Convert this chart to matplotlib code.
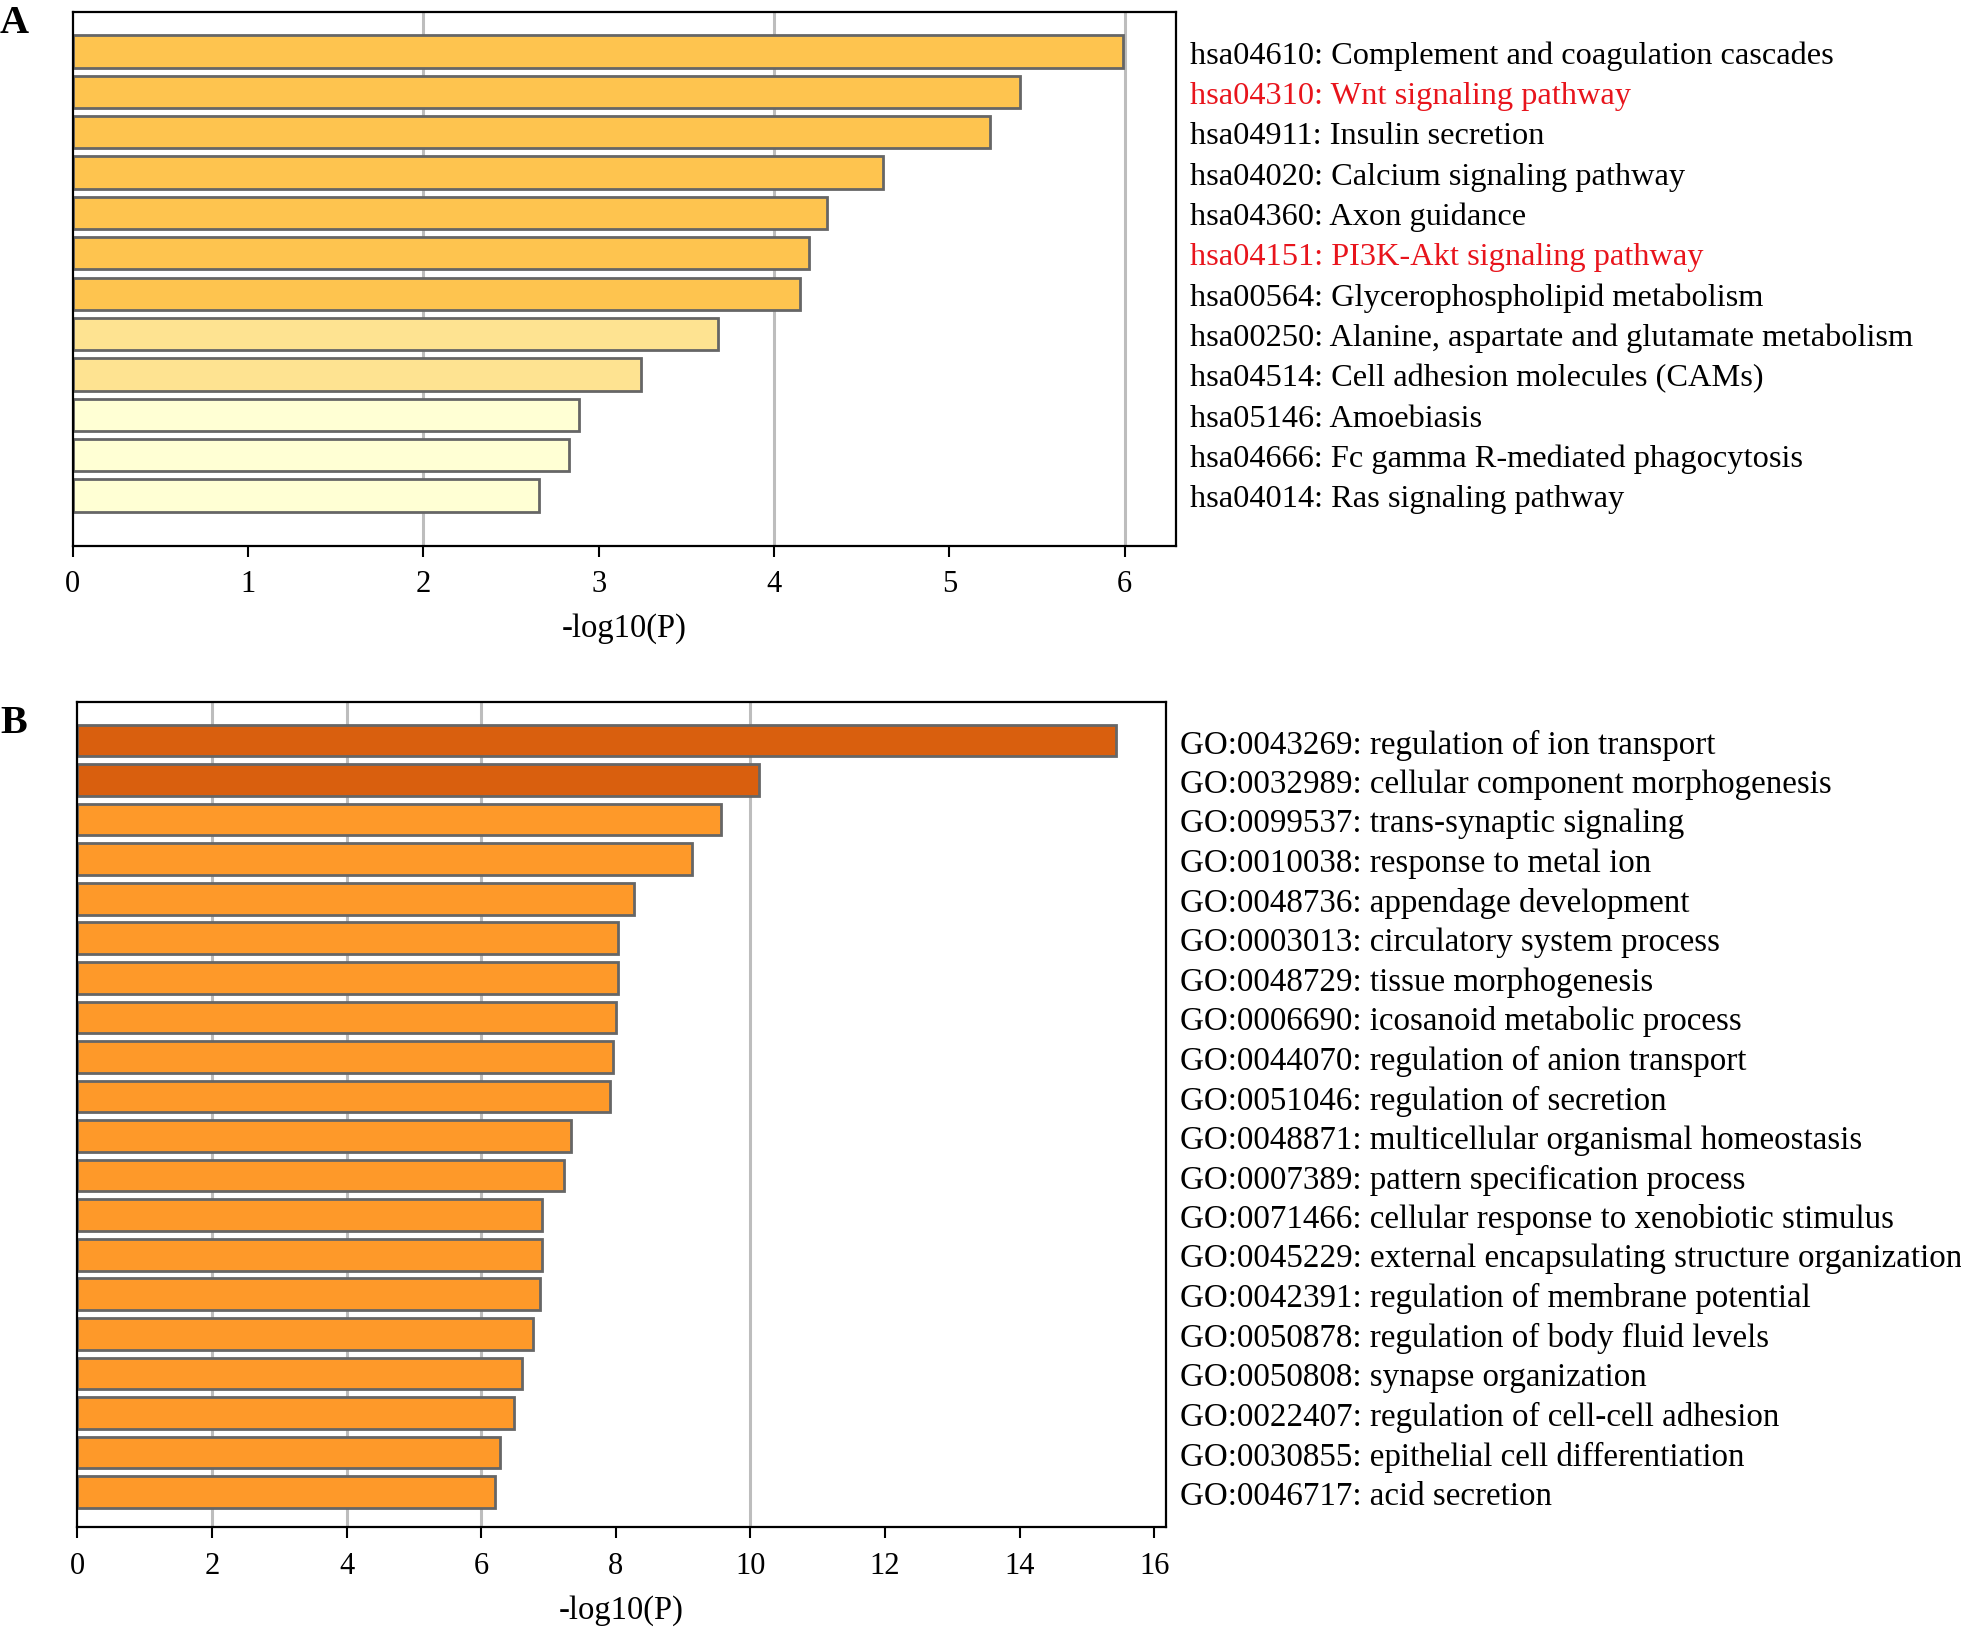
from matplotlib import pyplot as plt

plt.rcParams['font.family'] = ['Liberation Serif', 'DejaVu Serif']

# panel A: KEGG pathways
kegg_terms = ['hsa04610: Complement and coagulation cascades',
              'hsa04310: Wnt signaling pathway',
              'hsa04911: Insulin secretion',
              'hsa04020: Calcium signaling pathway',
              'hsa04360: Axon guidance',
              'hsa04151: PI3K-Akt signaling pathway',
              'hsa00564: Glycerophospholipid metabolism',
              'hsa00250: Alanine, aspartate and glutamate metabolism',
              'hsa04514: Cell adhesion molecules (CAMs)',
              'hsa05146: Amoebiasis',
              'hsa04666: Fc gamma R-mediated phagocytosis',
              'hsa04014: Ras signaling pathway']
kegg_vals = [5.99, 5.40, 5.23, 4.62, 4.30, 4.20, 4.15, 3.68, 3.24, 2.89, 2.83, 2.66]
kegg_cols = ['#fec44f'] * 7 + ['#fee391'] * 2 + ['#ffffd4'] * 3
kegg_highlight = ['hsa04310: Wnt signaling pathway', 'hsa04151: PI3K-Akt signaling pathway']

# panel B: GO terms
go_terms = ['GO:0043269: regulation of ion transport',
            'GO:0032989: cellular component morphogenesis',
            'GO:0099537: trans-synaptic signaling',
            'GO:0010038: response to metal ion',
            'GO:0048736: appendage development',
            'GO:0003013: circulatory system process',
            'GO:0048729: tissue morphogenesis',
            'GO:0006690: icosanoid metabolic process',
            'GO:0044070: regulation of anion transport',
            'GO:0051046: regulation of secretion',
            'GO:0048871: multicellular organismal homeostasis',
            'GO:0007389: pattern specification process',
            'GO:0071466: cellular response to xenobiotic stimulus',
            'GO:0045229: external encapsulating structure organization',
            'GO:0042391: regulation of membrane potential',
            'GO:0050878: regulation of body fluid levels',
            'GO:0050808: synapse organization',
            'GO:0022407: regulation of cell-cell adhesion',
            'GO:0030855: epithelial cell differentiation',
            'GO:0046717: acid secretion']
go_vals = [15.43, 10.13, 9.57, 9.13, 8.27, 8.03, 8.03, 8.01, 7.96, 7.92,
           7.34, 7.23, 6.90, 6.90, 6.88, 6.77, 6.60, 6.49, 6.28, 6.21]
go_cols = ['#d95f0e'] * 2 + ['#fe9929'] * 18


def draw(ax, terms, vals, cols, grid, xmax, xticks, top_pad, bot_pad, fs, red=()):
    y = list(range(len(terms)))
    for g in grid:
        ax.axvline(g, color='#bdbdbd', lw=2.2, zorder=0)
    ax.barh(y, vals, height=0.8, color=cols, edgecolor='#666666', linewidth=2, zorder=2)
    ax.set_ylim(len(terms) - 1 + bot_pad, -top_pad)
    ax.set_xlim(0, xmax)
    ax.set_xticks(xticks)
    ax.tick_params(axis='x', labelsize=22, length=8, width=1.5, direction='out', pad=9)
    ax.yaxis.tick_right()
    ax.set_yticks(y)
    ax.set_yticklabels(terms, fontsize=fs)
    ax.tick_params(axis='y', length=0, pad=10)
    for lab in ax.get_yticklabels():
        if lab.get_text() in red:
            lab.set_color('#e8141c')
    for s in ax.spines.values():
        s.set_linewidth(1.6)
        s.set_color('black')
    ax.set_xlabel('-log10(P)', fontsize=23.5, labelpad=10)


fig = plt.figure(figsize=(19.61, 16.31), dpi=100)

axA = fig.add_axes([0.0370, 0.6649, 0.5625, 0.3274])
draw(axA, kegg_terms, kegg_vals, kegg_cols, [2, 4, 6], 6.29, range(0, 7), 0.99, 1.24, 23.3, kegg_highlight)

axB = fig.add_axes([0.0395, 0.0630, 0.5549, 0.5061])
draw(axB, go_terms, go_vals, go_cols, [2, 4, 6, 10], 16.17, range(0, 17, 2), 0.98, 0.89, 23.8)

fig.text(0.0, 0.997, 'A', fontsize=29, fontweight='bold', va='top', ha='left')
fig.text(0.0, 0.568, 'B', fontsize=29, fontweight='bold', va='top', ha='left')

fig.savefig('out.png', dpi=100, facecolor='white')
